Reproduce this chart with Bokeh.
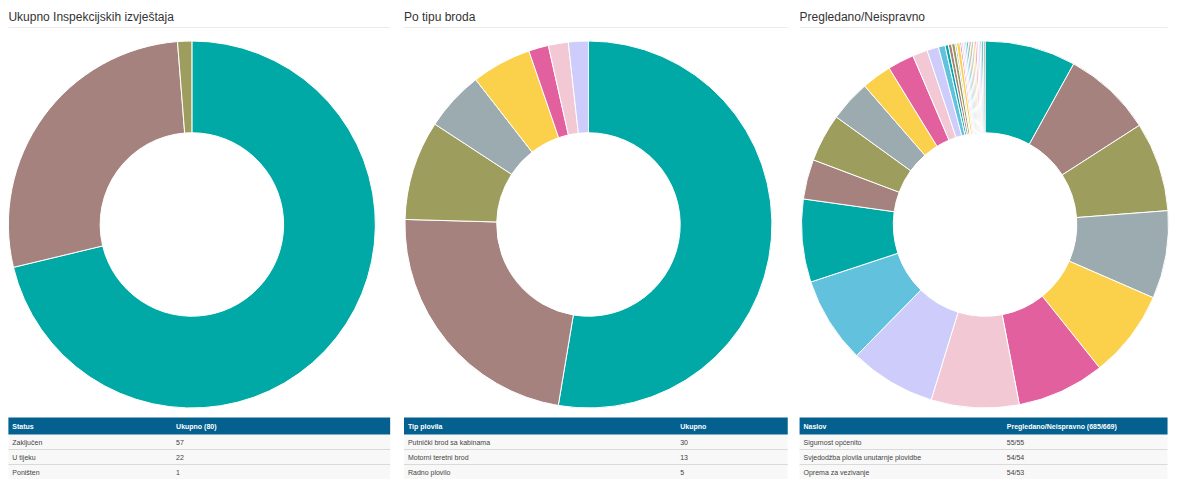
import math
from bokeh.plotting import figure
from bokeh.models import Range1d
from bokeh.core.properties import value
from bokeh.embed import file_html
from bokeh.resources import INLINE

# ---------------- data ----------------
titles = ["Ukupno Inspekcijskih izvještaja", "Po tipu broda", "Pregledano/Neispravno"]

status_labels = ["Zaključen", "U tijeku", "Poništen"]
status_counts = [57, 22, 1]

vessel_labels = ["Putnički brod sa kabinama", "Motorni teretni brod", "Radno plovilo"]
vessel_counts = [30, 13, 5, 3, 3, 1, 1, 1]

check_labels = ["Sigurnost općenito", "Svjedodžba plovila unutarnje plovidbe", "Oprema za vezivanje"]
check_inspected = [55, 54, 54]
check_faulty = [55, 54, 53]
check_totals = [685, 669]
check_counts = [55, 54, 54, 53, 53, 53, 53, 52, 52, 50, 24, 29, 25, 18, 16, 9, 7, 4,
                2, 2, 2, 1, 2, 1, 1, 1, 1, 1, 1, 1, 1, 1, 1, 1, 1, 1, 1, 1]

palette = ["#00A9A5", "#A5827E", "#9D9E5E", "#9BABAF", "#FBD14B",
           "#E3609F", "#F3C8D5", "#CDCCFA", "#62C1DD"]

# ---------------- layout ----------------
W, H = 1170, 479          # fits a 1186x495 window with the 8px page margin
REF_W, REF_H = 1186, 495


def X(px):
    return px


def Y(py):
    return REF_H - py


p = figure(width=W, height=H, output_backend="svg", toolbar_location=None,
           x_range=Range1d(0, REF_W), y_range=Range1d(REF_H - H, REF_H),
           min_border=0, outline_line_color=None)
p.axis.visible = False
p.grid.visible = False
p.background_fill_color = "white"
p.border_fill_color = "white"

FONT = value("Liberation Sans")

panel_x0 = [8, 409, 810]
panel_x1 = [395, 798, 1183]
donut_cx = [194, 596, 998]
donut_cy = 224
R_OUT, R_IN = 186, 93
col2_x = [178, 689, 1020]

series = [status_counts, vessel_counts, check_counts]

for i in range(3):
    # title
    p.text(x=[X(panel_x0[i])], y=[Y(16)], text=[titles[i]], text_font=FONT,
           text_font_size="12px", text_color="#333333", text_baseline="middle")
    p.segment(x0=[X(panel_x0[i])], y0=[Y(27)], x1=[X(panel_x1[i])], y1=[Y(27)],
              line_color="#ebebeb", line_width=1)

    # donut
    vals = series[i]
    tot = float(sum(vals))
    starts, ends, cols = [], [], []
    c = 0.0
    for k, v in enumerate(vals):
        a0 = math.pi / 2 - 2 * math.pi * c / tot
        c += v
        a1 = math.pi / 2 - 2 * math.pi * c / tot
        starts.append(a0)
        ends.append(a1)
        cols.append(palette[k % len(palette)])
    n = len(vals)
    p.annular_wedge(x=[X(donut_cx[i])] * n, y=[Y(donut_cy)] * n,
                    inner_radius=R_IN, outer_radius=R_OUT,
                    start_angle=starts, end_angle=ends, direction="clock",
                    fill_color=cols, line_color="#ffffff", line_width=1)

# tables
header_top, header_bot = 417.0, 434.0
row_edges = [434.0, 449.0, 464.0, 479.0]
headers = [("Status", "Ukupno (%d)" % sum(status_counts)),
           ("Tip plovila", "Ukupno"),
           ("Naslov", "Pregledano/Neispravno (%d/%d)" % (check_totals[0], check_totals[1]))]
rows = [
    (status_labels, [str(v) for v in status_counts]),
    (vessel_labels, [str(v) for v in vessel_counts[:3]]),
    (check_labels, ["%d/%d" % (a, b) for a, b in zip(check_inspected, check_faulty)]),
]

for i in range(3):
    x0, x1 = X(panel_x0[i]), X(panel_x1[i])
    # row backgrounds
    p.quad(left=[x0] * 3, right=[x1] * 3,
           top=[Y(row_edges[k]) for k in range(3)],
           bottom=[Y(row_edges[k + 1]) for k in range(3)],
           fill_color="#f8f8f8", line_color=None)
    p.segment(x0=[x0] * 2, x1=[x1] * 2,
              y0=[Y(row_edges[k + 1]) for k in range(2)],
              y1=[Y(row_edges[k + 1]) for k in range(2)],
              line_color="#dadada", line_width=1)
    # header
    p.quad(left=[x0], right=[x1], top=[Y(header_top)], bottom=[Y(header_bot)],
           fill_color="#03608F", line_color=None)
    hy = Y((header_top + header_bot) / 2)
    p.text(x=[X(panel_x0[i] + 4), X(col2_x[i])], y=[hy, hy],
           text=list(headers[i]), text_font=FONT, text_font_size="7px",
           text_font_style="bold", text_color="#ffffff", text_baseline="middle")
    labels, vals = rows[i]
    ys = [Y((row_edges[k] + row_edges[k + 1]) / 2) for k in range(3)]
    p.text(x=[X(panel_x0[i] + 4)] * 3, y=ys, text=labels, text_font=FONT,
           text_font_size="7px", text_color="#444444", text_baseline="middle")
    p.text(x=[X(col2_x[i])] * 3, y=ys, text=vals, text_font=FONT,
           text_font_size="7px", text_color="#444444", text_baseline="middle")

open("out.html", "w").write(file_html(p, INLINE))
